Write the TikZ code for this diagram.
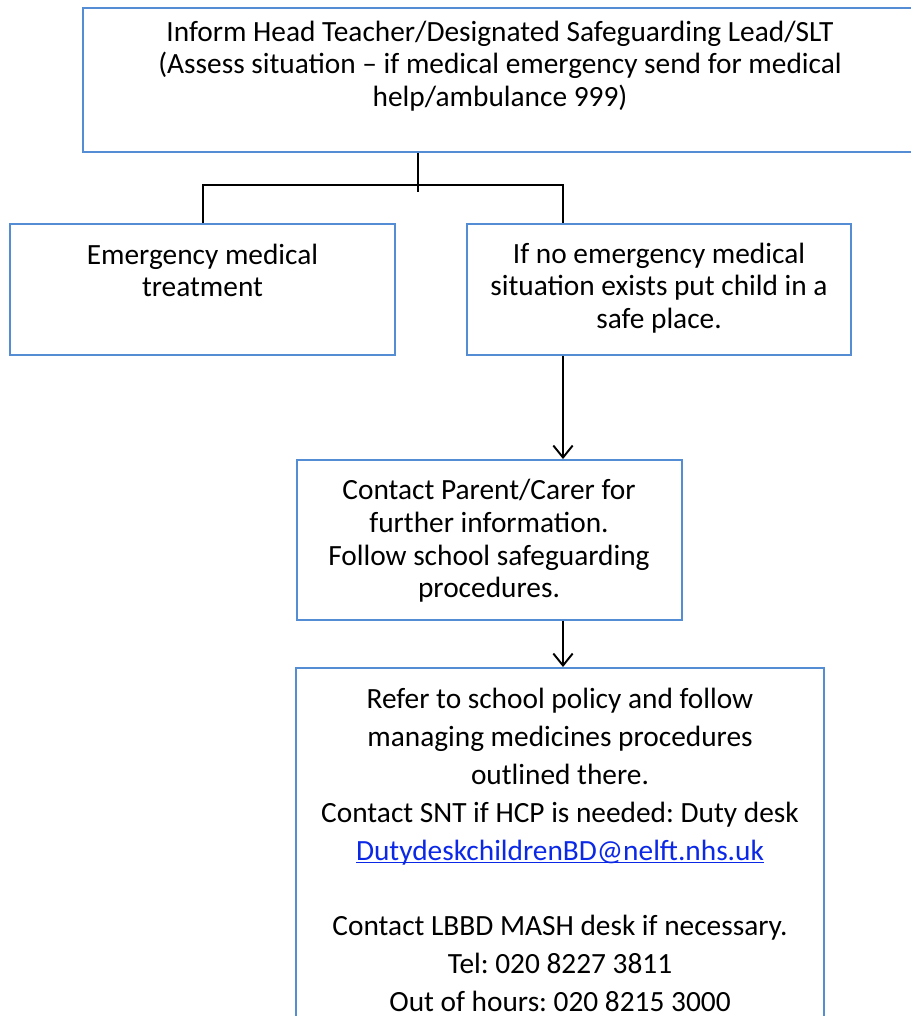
\documentclass[tikz,border=0pt]{standalone}
\usepackage{fontspec}
\setmainfont{Carlito}
\usetikzlibrary{arrows.meta}
\definecolor{boxblue}{RGB}{84,141,212}
\definecolor{linkblue}{RGB}{10,40,230}
\newcommand{\maillink}[1]{\textcolor{linkblue}{\setbox0\hbox{#1}\rlap{\rule[-1.7pt]{\wd0}{0.8pt}}\box0}}
\frenchspacing

\begin{document}
\begin{tikzpicture}[line width = 1.1pt,
                        box/.style = {rectangle, draw = boxblue, inner sep = 0pt},
                        txt/.style = {align = center, inner sep = 0pt, font = \fontsize{16.7}{18.6}\selectfont},
                        flow/.style = {draw = black, -{Straight Barb[length = 6.8pt, width = 11pt]}}]
      \useasboundingbox (0, 0) rectangle (18.2, -20.32);
      % boxes
      \node [box, minimum width = 16.68cm, minimum height = 2.88cm] (b1) at (10.0, -1.6){};
      \node [box, minimum width = 7.7cm, minimum height = 2.62cm] (b2) at (4.05, -5.79){};
      \node [box, minimum width = 7.68cm, minimum height = 2.62cm] (b3) at (13.18, -5.79){};
      \node [box, minimum width = 7.7cm, minimum height = 3.2cm] (b4) at (9.79, -10.8){};
      \node [box, minimum width = 10.56cm, minimum height = 7.64cm] (b5) at (11.2, -17.18){};
      % texts
      \node [txt] (t1) at (10.0, -1.32){Inform Head Teacher/Designated Safeguarding Lead/SLT\\
        (Assess situation -- if medical emergency send for medical\\ help/ambulance 999)};
      \node [txt] (t2) at (4.05, -5.41){Emergency medical\\ treatment};
      \node [txt] (t3) at (13.18, -5.76){If no emergency medical\\ situation exists put child in a\\ safe place.};
      \node [txt] (t4) at (9.78, -10.82){Contact Parent/Carer for\\ further information.\\
        Follow school safeguarding\\ procedures.};
      \node [txt, font = \fontsize{16.7}{21.5}\selectfont] (t5) at (11.2, -17.0){Refer to school policy and follow\\
        managing medicines procedures\\ outlined there.\\ Contact SNT if HCP is needed: Duty desk\\
        \maillink{DutydeskchildrenBD@nelft.nhs.uk}\\[21.5pt]
        Contact LBBD MASH desk if necessary.\\ Tel: 020 8227 3811\\ Out of hours: 020 8215 3000};
      % connectors
      \coordinate (j) at (8.36, -3.70);
      \coordinate (jl) at (4.06, -3.70);
      \coordinate (jr) at (11.26, -3.70);
      \draw (b1.south -| j) -- ([yshift = -0.14cm]j);
      \draw (b2.north -| jl) -- (jl) -- (jr) -- (b3.north -| jr);
      \draw [flow] (b3.south -| jr) -- (b4.north -| jr);
      \draw [flow] (b4.south -| jr) -- (b5.north -| jr);
    \end{tikzpicture}
\end{document}
